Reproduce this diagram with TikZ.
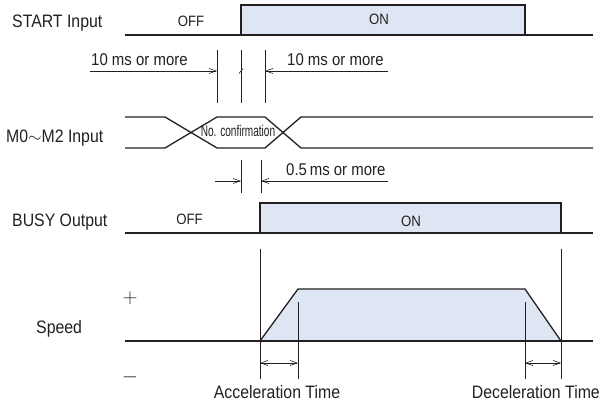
\documentclass[tikz,border=0pt]{standalone}
\usepackage{fontspec}
\setmainfont{Liberation Sans}[FakeStretch=0.88]
\newfontfamily\narrowfont{Liberation Sans}[FakeStretch=0.65]
\usetikzlibrary{arrows.meta}
\definecolor{sig}{HTML}{231F20}
\definecolor{onfill}{HTML}{DFE6F3}
\tikzset{
  sigline/.style={line width=1.3pt, draw=sig, line join=miter},
  thinline/.style={line width=0.6pt, draw=sig},
  barb/.tip={Straight Barb[length=7pt,width=5pt]},
  dimarrow/.style={thinline, -barb},
  lbl/.style={font=\fontsize{18}{18}\selectfont, inner sep=0pt, text=sig},
  dimtxt/.style={font=\fontsize{17}{18}\selectfont, inner sep=0pt, text=sig},
  statetxt/.style={font=\fontsize{15}{16}\selectfont, inner sep=0pt, text=sig},
  signtxt/.style={font=\fontsize{20}{20}\selectfont, inner sep=0pt, text=sig}
}
\begin{document}
\begin{tikzpicture}[x=1pt,y=-1pt]
\useasboundingbox (0,0) rectangle (603,403);

% ---------- START Input ----------
\node[lbl, anchor=base west] (startlbl) at (12,28) {START Input};
\fill[onfill] (241,5) rectangle (525,35);
\draw[sigline] (125,35) -- (593,35);
\draw[sigline] (241,35) -- (241,5) -- (525,5) -- (525,35);
\node[statetxt, anchor=base] (startoff) at (191,27) {OFF};
\node[statetxt, anchor=base] (starton) at (379,25) {ON};

% ---------- 10 ms dimensions ----------
\coordinate (ta1) at (217,50); \coordinate (tb1) at (217,103);
\coordinate (ta2) at (241,50); \coordinate (tb2) at (241,103);
\coordinate (ta3) at (265,50); \coordinate (tb3) at (265,103);
\draw[thinline] (ta1) -- (tb1);
\draw[thinline] (ta2) -- (tb2);
\draw[thinline] (ta3) -- (tb3);
\coordinate (d1l) at (90,71);  \coordinate (d1r) at (217,71);
\coordinate (d2r) at (388,71); \coordinate (d2l) at (265,71);
\draw[dimarrow] (d1l) -- (d1r);
\draw[dimarrow] (d2r) -- (d2l);
\draw[thinline] (239,73.5) -- (243,68.5);
\node[dimtxt, anchor=base west] (tenleft) at (91,66) {10 ms or more};
\node[dimtxt, anchor=base west] (tenright) at (287,66) {10 ms or more};

% ---------- M0~M2 Input ----------
\node[lbl, anchor=base west] (mlbl) at (6,143) {M0$\sim$M2 Input};
\draw[sigline] (125,117) -- (165,117) -- (217,148) -- (265,148) -- (301,117) -- (593,117);
\draw[sigline] (125,148) -- (165,148) -- (217,117) -- (265,117) -- (301,148) -- (593,148);
\node[font=\narrowfont\fontsize{15.5}{16}\selectfont, inner sep=0pt, text=sig, anchor=base] (noconf) at (238,137) {No. confirmation};

% ---------- 0.5 ms dimension ----------
\coordinate (tc1) at (241,160); \coordinate (td1) at (241,193);
\coordinate (tc2) at (261,160); \coordinate (td2) at (261,193);
\draw[thinline] (tc1) -- (td1);
\draw[thinline] (tc2) -- (td2);
\coordinate (d3l) at (215,181); \coordinate (d3r) at (241,181);
\coordinate (d4r) at (388,181); \coordinate (d4l) at (261,181);
\draw[dimarrow] (d3l) -- (d3r);
\draw[dimarrow] (d4r) -- (d4l);
\node[dimtxt, anchor=base west] (halfms) at (286,176) {0.5\,ms or more};

% ---------- BUSY Output ----------
\node[lbl, anchor=base west] (busylbl) at (12,227) {BUSY Output};
\fill[onfill] (260,203) rectangle (561,233);
\draw[sigline] (125,233) -- (593,233);
\draw[sigline] (260,233) -- (260,203) -- (561,203) -- (561,233);
\node[statetxt, anchor=base] (busyoff) at (189.5,225) {OFF};
\node[statetxt, anchor=base] (busyon) at (411,227) {ON};

% ---------- Speed ----------
\node[lbl, anchor=base west] (speedlbl) at (36,334) {Speed};
\node[signtxt] (plus) at (130,298.5) {$+$};
\node[signtxt] (minus) at (130,377) {$-$};
\fill[onfill] (260,341) -- (298,289) -- (525,289) -- (561,341) -- cycle;
\draw[sigline] (125,341) -- (593,341);
\draw[sigline] (260,341) -- (298,289) -- (525,289) -- (561,341);
\draw[thinline] (260,249) -- (260,379);
\draw[thinline] (561,249) -- (561,379);
\draw[thinline] (298,302) -- (298,379);
\draw[thinline] (525,302) -- (525,379);
\coordinate (acl) at (260,363); \coordinate (acr) at (298,363);
\coordinate (dcl) at (525,363); \coordinate (dcr) at (561,363);
\draw[thinline, barb-barb] (acl) -- (acr);
\draw[thinline, barb-barb] (dcl) -- (dcr);
\node[lbl, anchor=base] (acctxt) at (277,398.5) {Acceleration Time};
\node[lbl, anchor=base east] (dectxt) at (600,398.5) {Deceleration Time};
\end{tikzpicture}
\end{document}
